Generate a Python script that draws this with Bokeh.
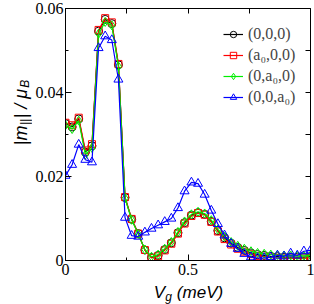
import math
from bokeh.plotting import figure
from bokeh.layouts import column, row
from bokeh.models import (Range1d, FixedTicker, LinearAxis, CustomJSTickFormatter,
                          Label, Legend, LegendItem)
from bokeh.embed import file_html
from bokeh.resources import INLINE

vg = [0.0, 0.027, 0.054, 0.081, 0.108, 0.135, 0.162, 0.189, 0.216, 0.243,
      0.270, 0.297, 0.324, 0.351, 0.378, 0.405, 0.432, 0.459, 0.486, 0.514,
      0.541, 0.568, 0.595, 0.622, 0.649, 0.676, 0.703, 0.730, 0.757, 0.784,
      0.811, 0.838, 0.865, 0.892, 0.919, 0.946, 0.973, 1.0]

m_000 = [0.0326, 0.0318, 0.0337, 0.0258, 0.0273, 0.0546, 0.0574, 0.0564, 0.0466, 0.0150,
         0.0098, 0.0064, 0.0025, 0.0007, 0.0012, 0.0026, 0.0042, 0.0066, 0.0090, 0.0108,
         0.0114, 0.0110, 0.0093, 0.0071, 0.0054, 0.0041, 0.0031, 0.0024, 0.0018, 0.0014,
         0.0012, 0.0010, 0.0009, 0.0008, 0.0008, 0.0008, 0.0008, 0.0009]
m_a00 = [0.0328, 0.0322, 0.0340, 0.0262, 0.0277, 0.0549, 0.0577, 0.0567, 0.0468, 0.0151,
         0.0099, 0.0064, 0.0025, 0.0006, 0.0010, 0.0024, 0.0040, 0.0064, 0.0088, 0.0106,
         0.0113, 0.0109, 0.0092, 0.0069, 0.0051, 0.0038, 0.0028, 0.0021, 0.0015, 0.0011,
         0.0009, 0.0007, 0.0006, 0.0005, 0.0005, 0.0005, 0.0005, 0.0006]
m_0a0 = [0.0322, 0.0313, 0.0333, 0.0252, 0.0268, 0.0540, 0.0568, 0.0560, 0.0462, 0.0148,
         0.0097, 0.0063, 0.0026, 0.0009, 0.0014, 0.0028, 0.0044, 0.0068, 0.0093, 0.0110,
         0.0116, 0.0112, 0.0096, 0.0074, 0.0057, 0.0044, 0.0035, 0.0028, 0.0022, 0.0018,
         0.0016, 0.0014, 0.0013, 0.0012, 0.0012, 0.0011, 0.0011, 0.0012]
m_00a = [0.0202, 0.0228, 0.0276, 0.0240, 0.0234, 0.0506, 0.0534, 0.0525, 0.0431, 0.0102,
         0.0059, 0.0057, 0.0067, 0.0076, 0.0084, 0.0092, 0.0100, 0.0125, 0.0165, 0.0186,
         0.0183, 0.0157, 0.0119, 0.0087, 0.0060, 0.0040, 0.0028, 0.0016, 0.0008, 0.0006,
         0.0006, 0.0008, 0.0012, 0.0010, 0.0017, 0.0012, 0.0022, 0.0024]

labels = ["(0,0,0)", "(a\u2080,0,0)", "(0,a\u2080,0)", "(0,0,a\u2080)"]
x_major = [0, 0.5, 1]
x_minor = [0.25, 0.75]
y_major = [0, 0.02, 0.04, 0.06]
y_minor = [0.01, 0.03, 0.05]

SERIF = "Liberation Serif"
SANS = "Liberation Sans"

YLAB_W = 32
MAIN_H = 282

p = figure(width=314 - YLAB_W, height=MAIN_H, output_backend="svg", toolbar_location=None,
           x_range=Range1d(0, 1), y_range=Range1d(0, 0.06),
           min_border_left=62 - YLAB_W, min_border_right=4, min_border_top=8,
           min_border_bottom=MAIN_H - 260,
           x_axis_location=None, y_axis_location=None)
p.xgrid.visible = False
p.ygrid.visible = False
p.outline_line_color = "black"
p.outline_line_width = 1
p.background_fill_color = "white"

fmt = CustomJSTickFormatter(code="return tick == 0 ? '0' : (Math.abs(tick - Math.round(tick)) < 1e-9 ? tick.toFixed(0) : (tick < 0.1 ? tick.toFixed(2) : tick.toFixed(1)));")
blank = CustomJSTickFormatter(code="return '';")

def style(ax, show):
    ax.axis_line_color = "black"
    ax.major_tick_line_color = "black"
    ax.minor_tick_line_color = "black"
    ax.major_tick_in = 6
    ax.major_tick_out = 0
    ax.minor_tick_in = 3
    ax.minor_tick_out = 0
    ax.major_label_text_font = SERIF
    ax.major_label_text_font_size = "16px"
    ax.major_label_text_color = "black"
    ax.major_label_standoff = 2
    ax.formatter = fmt if show else blank

bottom = LinearAxis(ticker=FixedTicker(ticks=x_major, minor_ticks=x_minor))
style(bottom, True)
bottom.major_label_standoff = 3
p.add_layout(bottom, "below")
left = LinearAxis(ticker=FixedTicker(ticks=y_major, minor_ticks=y_minor))
style(left, True)
p.add_layout(left, "left")
top = LinearAxis(ticker=FixedTicker(ticks=x_minor + [0.5], minor_ticks=[]))
style(top, False)
top.major_tick_in = 5
p.add_layout(top, "above")
right = LinearAxis(ticker=FixedTicker(ticks=y_minor + [0.02, 0.04], minor_ticks=[]))
style(right, False)
right.major_tick_in = 5
p.add_layout(right, "right")

series = [
    (m_000, "black", "circle", 8),
    (m_a00, "red", "square", 7),
    (m_0a0, "#00ee00", "diamond", 9),
    (m_00a, "blue", "triangle", 9),
]
items = []
for (ys, col, mk, sz), lab in zip(series, labels):
    r1 = p.line(vg, ys, line_color=col, line_width=1.2)
    r2 = p.scatter(vg, ys, marker=mk, size=sz, line_color=col, fill_color=None, line_width=1)
    items.append(LegendItem(label=lab, renderers=[r1, r2]))

leg = Legend(items=items, location=(158, 153), border_line_color=None,
             background_fill_color=None, padding=0, margin=0, spacing=1,
             glyph_width=20, glyph_height=16, label_height=20, label_standoff=5,
             label_text_font=SERIF, label_text_font_size="16px")
p.add_layout(leg, "center")

def blank_fig(wd, ht):
    f = figure(width=wd, height=ht, output_backend="svg", toolbar_location=None,
               x_range=Range1d(0, 1), y_range=Range1d(0, 1),
               min_border=0, min_border_left=0, min_border_right=0,
               min_border_top=0, min_border_bottom=0,
               x_axis_location=None, y_axis_location=None)
    f.xgrid.visible = False
    f.ygrid.visible = False
    f.outline_line_color = None
    return f

# axis labels with subscripts, composed from pieces (text, size, baseline shift, gap before)
em = {"|": 0.26, "m": 0.833, " ": 0.278, "/": 0.278, "\u03bc": 0.576, "B": 0.667,
      "V": 0.667, "g": 0.556, "(": 0.333, "e": 0.556, ")": 0.333}
def w(t, s):
    return sum(em.get(c, 0.6) for c in t) * s

yl = blank_fig(YLAB_W, MAIN_H)
ypieces = [("|m", 18, 0, 0), ("||", 12, 4, 0.5), ("| / \u03bc", 18, 0, 0.5), ("B", 12, 4, 0.5)]
total = sum(w(t, s) + g for t, s, _, g in ypieces)
pos = (MAIN_H - 134) - total / 2
for t, s, dx, g in ypieces:
    pos += g
    yl.add_layout(Label(x=20 + dx, y=pos, x_units="screen", y_units="screen", text=t,
                        angle=math.pi / 2, text_align="left", text_baseline="alphabetic",
                        text_font=SANS, text_font_style="italic", text_font_size=f"{s}px",
                        text_color="black"))
    pos += w(t, s)

XLAB_H = 304 - MAIN_H
xl = blank_fig(314, XLAB_H)
xpieces = [("V", 17, 0, 0), ("g", 12, -4, 0), ("(meV)", 17, 0, 5)]
total = sum(w(t, s) + g for t, s, _, g in xpieces)
pos = 188 - total / 2
for t, s, dy, g in xpieces:
    pos += g
    xl.add_layout(Label(x=pos, y=(XLAB_H - 10) + dy, x_units="screen", y_units="screen", text=t,
                        text_align="left", text_baseline="alphabetic",
                        text_font=SANS, text_font_style="italic", text_font_size=f"{s}px",
                        text_color="black"))
    pos += w(t, s)

layout = column(row(yl, p, spacing=0), xl, spacing=0)
open("out.html", "w").write(file_html(layout, INLINE))
